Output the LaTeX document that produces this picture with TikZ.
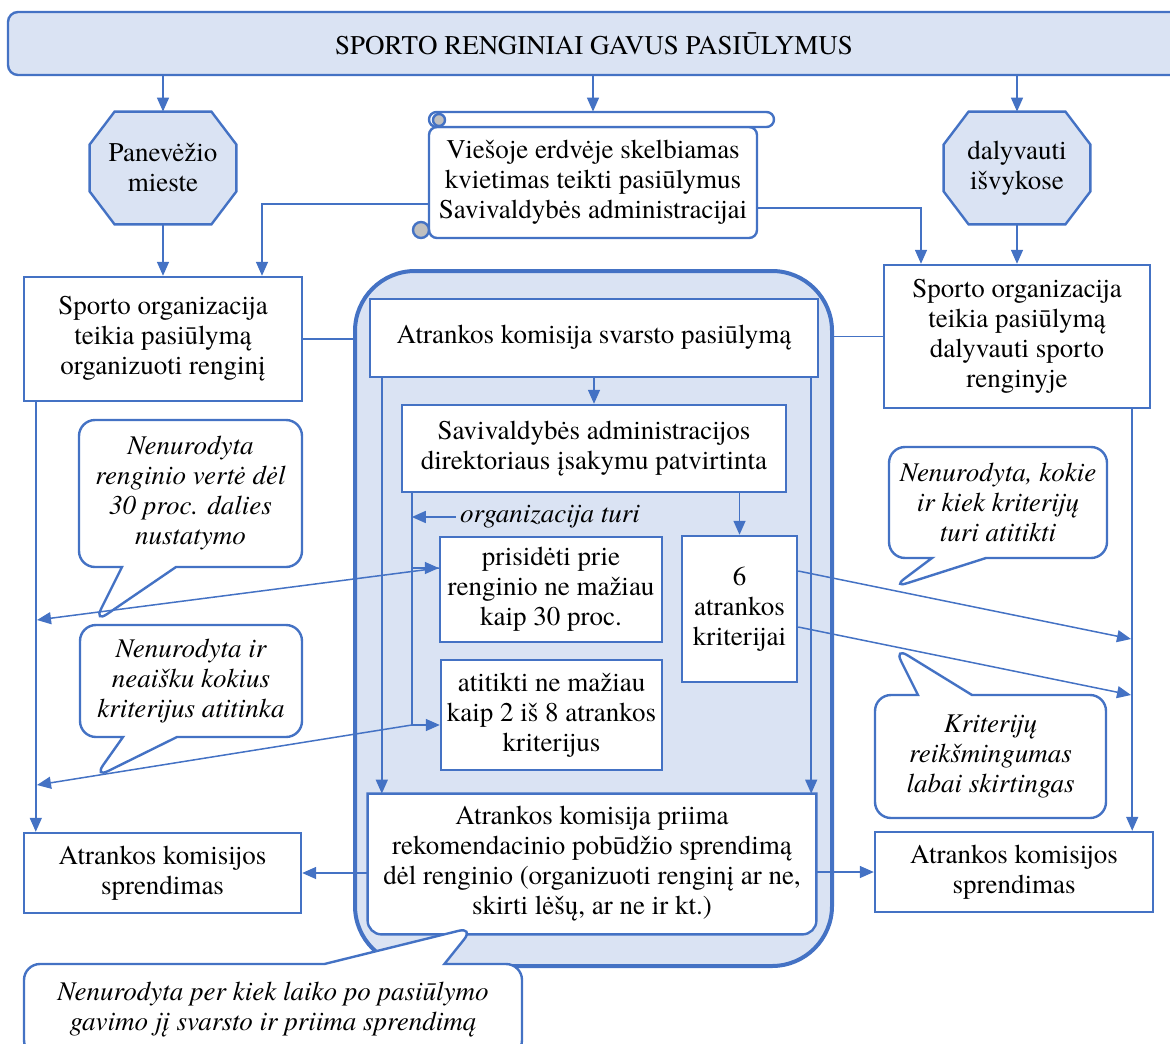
\documentclass[tikz,border=0pt]{standalone}
\usepackage{fontspec}
\setmainfont{texgyretermes}[Extension=.otf, UprightFont=*-regular, ItalicFont=*-italic, BoldFont=*-bold, BoldItalicFont=*-bolditalic]
\usetikzlibrary{shapes,shapes.callouts,arrows,arrows.meta}
\definecolor{frameblue}{HTML}{4472C4}
\definecolor{paleblue}{HTML}{DAE3F3}
\definecolor{curlgray}{HTML}{C0C0C0}
\newcommand{\diagfont}{\fontsize{13.5}{15}\selectfont}
\tikzstyle{box} = [rectangle, draw=frameblue, line width=1.2pt, fill=white,
    align=center, inner sep=1pt]
\tikzstyle{spot} = [rectangle, inner sep=0pt, minimum width=73pt, minimum height=56pt]
\tikzstyle{octa} = [draw=frameblue, fill=paleblue, line width=1.2pt]
\tikzstyle{roll} = [draw=frameblue, line width=1.2pt, fill=white]
\tikzstyle{note} = [rectangle callout, draw=frameblue, fill=white, line width=1.2pt,
    rounded corners=8pt, align=center, font=\diagfont\itshape, callout pointer width=27pt]
\tikzstyle{wire} = [draw=frameblue, line width=0.75pt]
\tikzstyle{link} = [wire, -{Triangle[length=7pt,width=6pt]}]

\begin{document}
\begin{tikzpicture}[x=0.5pt, y=-0.5pt, every node/.style={font=\diagfont}]
    \useasboundingbox (0,0) rectangle (1170,1043);
    % Place nodes
    % Header
    \node [box, fill=paleblue, rounded corners=5pt, minimum width=586pt, minimum height=31.5pt] (head) at (594,43.5) {SPORTO RENGINIAI GAVUS PASIŪLYMUS};

    % Where
    \node [spot] (city) at (163,168) {};
    \node [spot] (trip) at (1017,168) {};
    \foreach \o in {city, trip}
        \draw [octa] ([xshift=12.5pt]\o.north west) -- ([xshift=-12.5pt]\o.north east)
            -- ([yshift=-16.5pt]\o.north east) -- ([yshift=16.5pt]\o.south east)
            -- ([xshift=-12.5pt]\o.south east) -- ([xshift=12.5pt]\o.south west)
            -- ([yshift=16.5pt]\o.south west) -- ([yshift=-16.5pt]\o.north west) -- cycle;
    \node [align=center] (cityText) at (city) {Panevėžio\\mieste};
    \node [align=center] (tripText) at (trip) {dalyvauti\\išvykose};

    % Scroll
    \draw [roll, rounded corners=4pt] (429,127) rectangle (757,238);
    \draw [roll, rounded corners=3.75pt] (429,112) rectangle (774,127);
    \draw [roll, fill=curlgray] (439,120) circle (3pt);
    \draw [roll, fill=curlgray] (421,230) circle (4pt);
    \node [align=center, minimum width=164pt, minimum height=55.5pt] (call) at (593,182.5) {Viešoje erdvėje skelbiamas\\kvietimas teikti pasiūlymus\\Savivaldybės administracijai};
    \coordinate (rolltop) at ([yshift=7.5pt]call.north);

    % Offers
    \node [box, minimum width=139pt, minimum height=62pt] (host) at (163,339) {Sporto organizacija\\teikia pasiūlymą\\organizuoti renginį};
    \node [box, minimum width=133pt, minimum height=71.5pt] (guest) at (1017,336.5) {Sporto organizacija\\teikia pasiūlymą\\dalyvauti sporto\\renginyje};

    % Commission
    \node [box, fill=paleblue, line width=2pt, rounded corners=30pt, minimum width=238.5pt, minimum height=347.5pt] (panel) at (593.5,618.5) {};
    \node [box, minimum width=224pt, minimum height=39pt] (review) at (594,338) {Atrankos komisija svarsto pasiūlymą};
    \node [box, minimum width=192pt, minimum height=43.5pt] (order) at (594,448.5) {Savivaldybės administracijos\\direktoriaus įsakymu patvirtinta};
    \node [font=\diagfont\itshape, inner sep=2pt] (turi) at (550,517) {organizacija turi};
    \node [box, minimum width=111pt, minimum height=52.5pt] (share) at (551,589.5) {prisidėti prie\\renginio ne mažiau\\kaip 30 proc.};
    \node [box, minimum width=110.5pt, minimum height=55pt] (match) at (551.5,715) {atitikti ne mažiau\\kaip 2 iš 8 atrankos\\kriterijus};
    \node [box, minimum width=57.5pt, minimum height=73pt] (crit) at (739.5,609) {6\\atrankos\\kriterijai};
    \node [inner sep=0pt, minimum width=224pt, minimum height=70pt] (verdict) at (592,864) {};
    \draw [roll] (verdict.north west) -- (verdict.north east) [rounded corners=7pt] -- (verdict.south east) -- (verdict.south west) [sharp corners] -- cycle;
    \node [align=center] (verdictText) at (verdict) {Atrankos komisija priima\\rekomendacinio pobūdžio sprendimą\\dėl renginio (organizuoti renginį ar ne,\\skirti lėšų, ar ne ir kt.)};

    % Decisions
    \node [box, minimum width=138.5pt, minimum height=40pt] (outL) at (162.5,873) {Atrankos komisijos\\sprendimas};
    \node [box, minimum width=139pt, minimum height=40pt] (outR) at (1014,872) {Atrankos komisijos\\sprendimas};

    % Remarks
    \node [note, minimum width=111.5pt, minimum height=73.5pt, callout absolute pointer={(94,623)}] (note1) at (190.5,493.5) {Nenurodyta\\renginio vertė dėl\\30 proc. dalies\\nustatymo};
    \node [note, minimum width=111pt, minimum height=56pt, callout absolute pointer={(94,778)}] (note2) at (191,681) {Nenurodyta ir\\neaišku kokius\\kriterijus atitinka};
    \node [note, minimum width=109pt, minimum height=55.5pt, callout absolute pointer={(892,588)}] (note3) at (998,502.5) {Nenurodyta, kokie\\ir kiek kriterijų\\turi atitikti};
    \node [note, minimum width=115.5pt, minimum height=61.5pt, callout absolute pointer={(894,647)}] (note4) at (990.5,756.5) {Kriterijų\\reikšmingumas\\labai skirtingas};
    \node [note, minimum width=249pt, minimum height=46pt, callout pointer width=60pt, callout absolute pointer={(474,927)}] (note5) at (273,1010) {Nenurodyta per kiek laiko po pasiūlymo\\gavimo jį svarsto ir priima sprendimą};

    % Draw edges
    \coordinate (lane) at ([xshift=6.5pt]host.south west);
    \coordinate (rlane) at ([xshift=-9.5pt]guest.south east);
    \coordinate (spineL) at ([xshift=6.5pt]review.south west);
    \coordinate (spineR) at ([xshift=-4pt]review.south east);
    \coordinate (trunk) at ([xshift=5.5pt]order.south west);
    \coordinate (in1) at ([yshift=10.75pt]share.west);
    \coordinate (in2) at ([yshift=-5pt]match.west);
    \coordinate (out1) at ([yshift=19pt]crit.east);
    \coordinate (out2) at ([yshift=-9pt]crit.east);
    \coordinate (hit1) at (37,620);
    \coordinate (hit2) at (37,785);
    \coordinate (hit3) at (1131,639);
    \coordinate (hit4) at (1131,695);

    % From header
    \draw [link] (head.south -| city) -- (city.north);
    \draw [link] (head.south -| rolltop) -- (rolltop);
    \draw [link] (head.south -| trip) -- (trip.north);
    \draw [link] (city.south) -- (host.north);
    \draw [link] (trip.south) -- (guest.north);
    \draw [link] ([yshift=-10.75pt]call.west) -| ([xshift=49.5pt]host.north);
    \draw [link] ([yshift=-12.75pt]call.east) -| ([xshift=-48pt]guest.north);
    \draw [wire] (host.east) -- (host.east -| panel.west);
    \draw [wire] (guest.west) -- (guest.west -| panel.east);

    % Inside the commission
    \draw [link] (review.south) -- (order.north);
    \draw [link] (spineL) -- (spineL |- verdict.north);
    \draw [link] (spineR) -- (spineR |- verdict.north);
    \draw [link] (crit.north |- order.south) -- (crit.north);
    \draw [wire] (trunk) -- (trunk |- in2);
    \draw [link] (turi.west) -- (turi.west -| trunk);
    \draw [link] (trunk |- in1) -- (in1);
    \draw [link] (trunk |- in2) -- (in2);

    % To the lanes
    \draw [link] (lane) -- (lane |- outL.north);
    \draw [link] (rlane) -- (rlane |- outR.north);
    \draw [link] (in1) -- (hit1);
    \draw [link] (trunk |- in2) -- (hit2);
    \draw [link] (out1) -- (hit3);
    \draw [link] (out2) -- (hit4);
    \draw [link] (verdict.west |- outL.east) -- (outL.east);
    \draw [link] (verdict.east |- outR.west) -- (outR.west);

\end{tikzpicture}
\end{document}
